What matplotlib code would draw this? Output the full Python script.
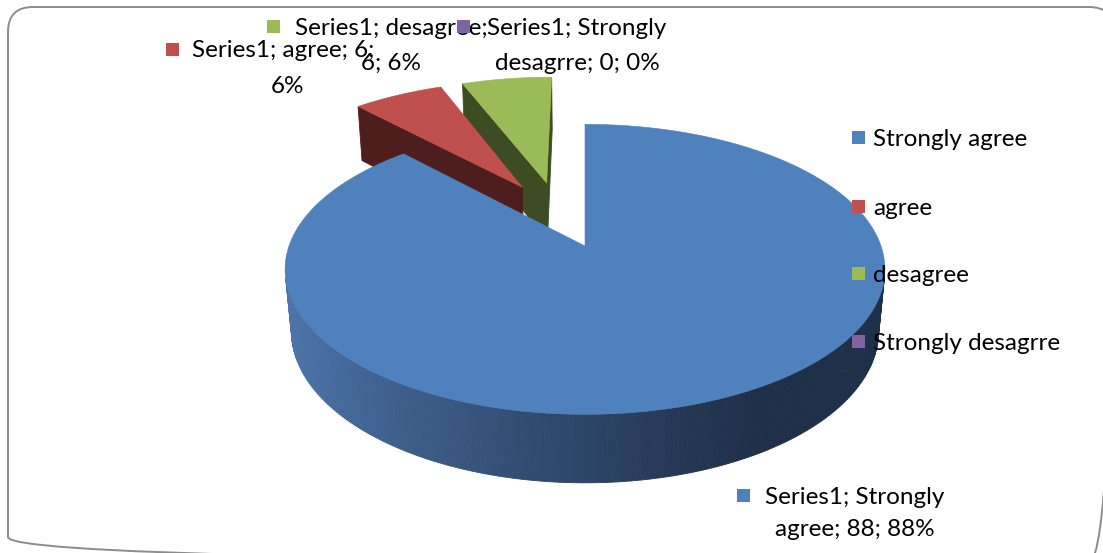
import matplotlib.pyplot as plt
import numpy as np
from matplotlib.colors import to_rgb
from matplotlib.patches import Polygon, Rectangle, FancyBboxPatch

plt.rcParams['font.family'] = ['Lato', 'DejaVu Sans']

# -------------------------------------------------------------------------
# Data
# -------------------------------------------------------------------------
series_name = "Series1"
categories = ["Strongly agree", "agree", "desagree", "Strongly desagrre"]
values = [88, 6, 6, 0]

colors = ["#4F81BD", "#C0504D", "#9BBB59", "#8064A2"]
side_colors = ["#1F3049", "#4E1E1E", "#3D4C22", "#33284A"]
explode = [0.0, 0.5, 0.5, 0.0]

# words kept on the first line of each data label
label_wrap = [2, 3, 2, 2]

# -------------------------------------------------------------------------
# 3D pie geometry (unit radius disk, perspective camera)
# -------------------------------------------------------------------------
W, H = 1103, 553
TILT = np.radians(28.5)
CAM_DIST = 5.46
SCALE = 296.0
CX, CY = 585.0, 246.0
THICK = 0.24


def project(x, z, y=0.0):
    x = np.asarray(x, float)
    z = np.asarray(z, float)
    depth = CAM_DIST + z * np.cos(TILT) - y * np.sin(TILT)
    up = z * np.sin(TILT) + y * np.cos(TILT)
    k = CAM_DIST / depth
    return CX + SCALE * x * k, CY - SCALE * up * k


def faces_camera(px, pz, nx, nz):
    # camera sits at (0, D sin, -D cos); normal has no vertical part
    return nx * px + nz * (pz + CAM_DIST * np.cos(TILT)) <= 1e-9


def side_shade(xpix):
    left = np.array(to_rgb("#4C74A9"))
    right = np.array(to_rgb("#1E2F48"))
    t = np.clip((xpix - 290.0) / 470.0, 0, 1) ** 0.8
    return left + (right - left) * t


fracs = np.array(values, float) / sum(values)
starts = 90 - 360 * np.concatenate([[0], np.cumsum(fracs)[:-1]])
ends = starts - 360 * fracs
mids = (starts + ends) / 2

# exploded wedges are pulled halfway toward the middle of their group
exploded = [i for i in range(len(values)) if explode[i] > 0 and fracs[i] > 0]
group_mid = (starts[exploded].max() + ends[exploded].min()) / 2
offsets = []
for i in range(len(values)):
    if i in exploded:
        d = np.radians((mids[i] + group_mid) / 2)
        offsets.append((explode[i] * np.cos(d), explode[i] * np.sin(d)))
    else:
        offsets.append((0.0, 0.0))

fig = plt.figure(figsize=(W / 100, H / 100), dpi=100)
ax = fig.add_axes([0, 0, 1, 1])
ax.set_xlim(0, W)
ax.set_ylim(H, 0)
ax.axis("off")

# far wedges first
order = sorted([i for i in range(len(values)) if fracs[i] > 0],
               key=lambda i: -offsets[i][1])

for i in order:
    ox, oz = offsets[i]
    a = np.radians(np.linspace(starts[i], ends[i], 400))
    rx, rz = ox + np.cos(a), oz + np.sin(a)

    # radial walls
    for ang, sgn in ((starts[i], 1), (ends[i], -1)):
        t = np.radians(ang)
        n = np.radians(ang + sgn * 90)
        if not faces_camera(ox, oz, np.cos(n), np.sin(n)):
            continue
        ex, ez = ox + np.cos(t), oz + np.sin(t)
        pts = [project(ox, oz), project(ex, ez),
               project(ex, ez, -THICK), project(ox, oz, -THICK)]
        ax.add_patch(Polygon([(float(p[0]), float(p[1])) for p in pts],
                             closed=True, fc=side_colors[i], ec=side_colors[i],
                             lw=0.6, zorder=2))

    # curved outer wall, shaded left to right
    vis = faces_camera(rx, rz, np.cos(a), np.sin(a))
    tx, ty = project(rx, rz)
    bx, by = project(rx, rz, -THICK)
    for j in range(len(a) - 1):
        if not (vis[j] and vis[j + 1]):
            continue
        quad = [(tx[j], ty[j]), (tx[j + 1], ty[j + 1]),
                (bx[j + 1], by[j + 1]), (bx[j], by[j])]
        c = side_shade((tx[j] + tx[j + 1]) / 2) if i == 0 else to_rgb(side_colors[i])
        ax.add_patch(Polygon(quad, closed=True, fc=c, ec=c, lw=0.6, zorder=2))

    # top face
    apx, apy = project(ox, oz)
    top = [(float(apx), float(apy))] + list(zip(tx, ty))
    ax.add_patch(Polygon(top, closed=True, fc=colors[i], ec=colors[i],
                         lw=0.4, zorder=3))

# -------------------------------------------------------------------------
# Data labels
# -------------------------------------------------------------------------
FS = 17.5
label_marker = [(737, 489), (166, 43), (267, 20), (457, 20)]
label_line1 = [(765, 504), (192, 57), (295, 35), (487, 35)]
label_line2 = [(855, 536), (287, 93), (391, 70), (577, 70)]

for i in [0, 1, 2, 3]:
    pct = round(100 * fracs[i])
    words = f"{series_name}; {categories[i]}; {values[i]}; {pct}%".split(" ")
    first = " ".join(words[:label_wrap[i]])
    second = " ".join(words[label_wrap[i]:])
    mx, my = label_marker[i]
    ax.add_patch(Rectangle((mx, my), 13, 13, fc=colors[i], ec="none", zorder=5))
    ax.text(*label_line1[i], first, fontsize=FS, ha="left", va="baseline",
            color="black", zorder=4)
    ax.text(*label_line2[i], second, fontsize=FS, ha="center", va="baseline",
            color="black", zorder=4)

# -------------------------------------------------------------------------
# Legend
# -------------------------------------------------------------------------
legend_rows = [146, 215, 282, 350]
for i, cat in enumerate(categories):
    ax.add_patch(Rectangle((852, legend_rows[i] - 15), 13, 13,
                           fc=colors[i], ec="none", zorder=5))
    ax.text(873, legend_rows[i], cat, fontsize=FS, ha="left", va="baseline",
            color="black", zorder=6)

# chart frame
ax.add_patch(FancyBboxPatch((8, 7), 1106, 555,
                            boxstyle="round,pad=0,rounding_size=25",
                            fc="none", ec="#8C8C8C", lw=1.4, zorder=7,
                            clip_on=False))

fig.savefig("out.png", dpi=100)
